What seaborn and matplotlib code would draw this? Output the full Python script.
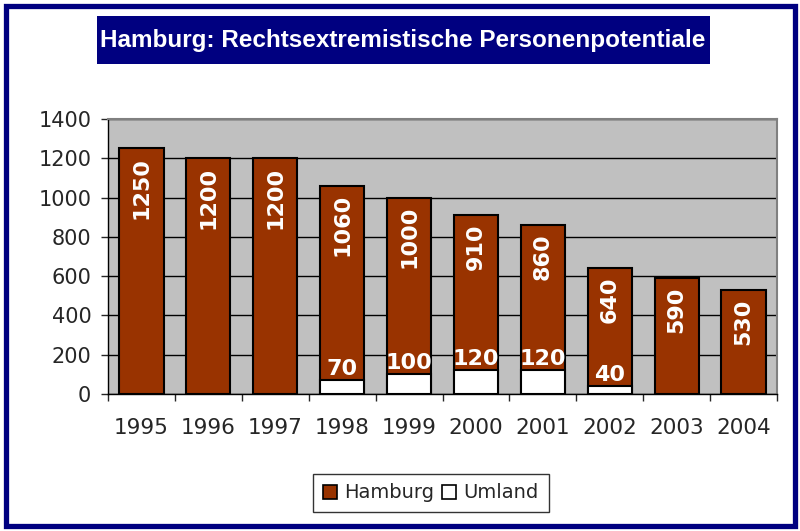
import numpy as np
import pandas as pd
import matplotlib
matplotlib.use('Agg')
import matplotlib.pyplot as plt
from matplotlib.patches import Rectangle, Patch
import seaborn as sns

years = ['1995', '1996', '1997', '1998', '1999', '2000', '2001', '2002', '2003', '2004']
hamburg = [1250, 1200, 1200, 1060, 1000, 910, 860, 640, 590, 530]
umland = [np.nan, np.nan, np.nan, 70, 100, 120, 120, 40, np.nan, np.nan]
series = ['Hamburg', 'Umland']
colors = ['#993300', '#FFFFFF']

df = pd.DataFrame({
    'Jahr': years * 2,
    'Wert': hamburg + umland,
    'Gebiet': ['Hamburg'] * len(years) + ['Umland'] * len(years),
})

sns.set_style('white')
plt.rcParams['font.family'] = ['DejaVu Sans']

fig = plt.figure(figsize=(8, 5.31), dpi=100)
ax = fig.add_axes([108 / 800, 1 - 394 / 531, 669 / 800, 275 / 531])
ax.set_facecolor('#C0C0C0')

sns.barplot(data=df, x='Jahr', y='Wert', hue='Gebiet', hue_order=series,
            palette=colors, saturation=1, dodge=False, width=0.66, edgecolor='black',
            linewidth=1.5, legend=False, ax=ax, zorder=3)

ax.set_ylim(0, 1400)
ax.set_xlim(-0.5, 9.5)
ax.set_yticks(range(0, 1401, 200))
ax.yaxis.grid(True, color='black', linewidth=1, zorder=0)
ax.set_axisbelow(True)
ax.set_xlabel('')
ax.set_ylabel('')
ax.tick_params(axis='y', labelsize=15, length=5, width=1, direction='out', left=True, pad=7)
ax.set_xticks(range(len(years)))
ax.set_xticks(np.arange(-0.5, 10, 1), minor=True)
ax.tick_params(axis='x', which='major', length=0, labelsize=15.5, pad=17)
ax.tick_params(axis='x', which='minor', length=5, width=1, direction='out', bottom=True)
for s in ['left', 'bottom']:
    ax.spines[s].set_color('black')
    ax.spines[s].set_linewidth(1)
for s in ['top', 'right']:
    ax.spines[s].set_color('#808080')
    ax.spines[s].set_linewidth(1.5)

# value labels
for i, v in enumerate(hamburg):
    ax.annotate(str(v), (i, v), xytext=(0, -6), textcoords='offset points',
                rotation=90, ha='center', va='top', color='white',
                fontsize=16, fontweight='bold', zorder=5)
for i, v in enumerate(umland):
    if not np.isnan(v):
        ax.annotate(str(int(v)), (i, v), xytext=(0, 8), textcoords='offset points',
                    ha='center', va='center', color='white',
                    fontsize=16, fontweight='bold', zorder=5)

# title box
fig.text(403 / 800, 1 - 40 / 531, 'Hamburg: Rechtsextremistische Personenpotentiale',
         ha='center', va='center', color='white', fontsize=17.5, fontweight='bold',
         family='Liberation Sans')
fig.patches.append(Rectangle((97 / 800, 1 - 64 / 531), 613 / 800, 48 / 531,
                             transform=fig.transFigure, facecolor='#000080',
                             edgecolor='none', zorder=0))

# legend
handles = [Patch(facecolor=c, edgecolor='black', linewidth=1.2) for c in colors]
leg = fig.legend(handles, series, loc='center', bbox_to_anchor=(431 / 800, 1 - 493 / 531),
                 ncol=2, fontsize=14, frameon=True, fancybox=False, handlelength=0.7,
                 handleheight=0.7, handletextpad=0.4, columnspacing=0.4,
                 borderpad=0.5)
leg.get_frame().set_edgecolor('black')
leg.get_frame().set_linewidth(1)

# outer border
fig.patches.append(Rectangle((5.5 / 800, 1 - 525.5 / 531), 789 / 800, 520 / 531,
                             transform=fig.transFigure, facecolor='none',
                             edgecolor='#000080', linewidth=3.8, zorder=10))

fig.savefig('out.png', dpi=100)
